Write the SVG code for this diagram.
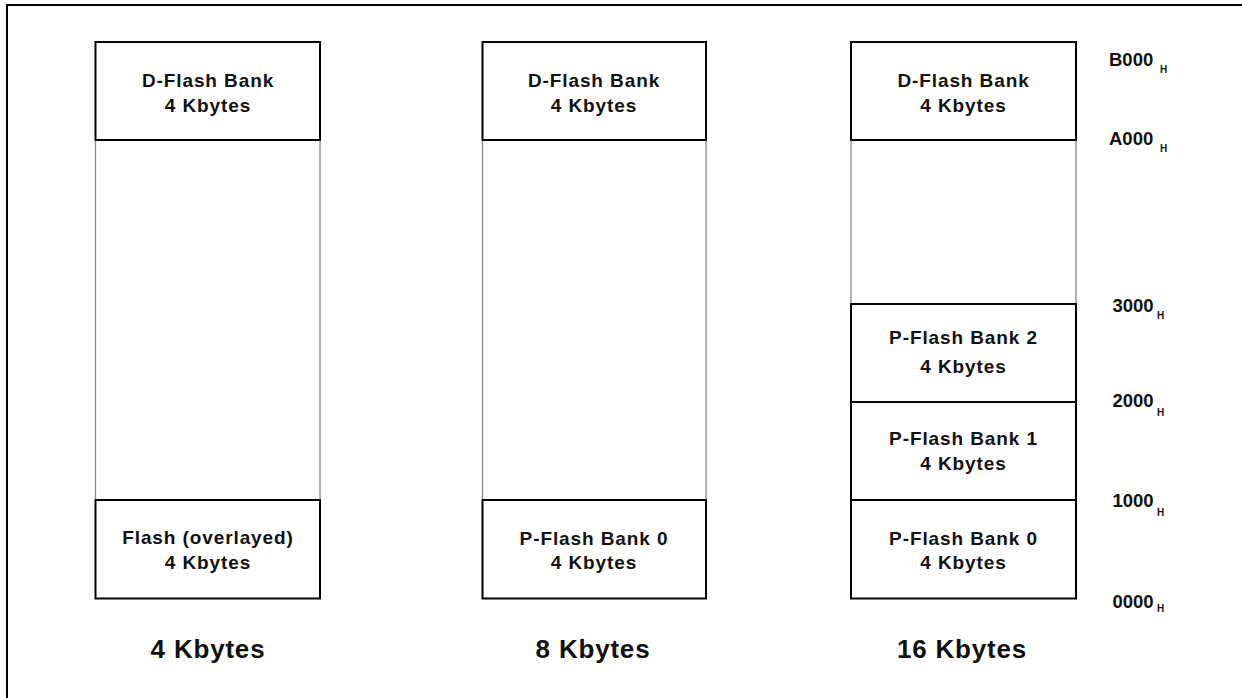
<svg xmlns="http://www.w3.org/2000/svg" width="1242" height="698" viewBox="0 0 1242 698">
<style>
.box{fill:#fff;stroke:#000;stroke-width:2}
.side{stroke:#8a8a8a;stroke-width:1.3;fill:none}
.lbl{font-family:"Liberation Sans",Arial,sans-serif;font-weight:bold;font-size:19px;letter-spacing:0.9px;text-anchor:middle;fill:#111}
.big{font-family:"Liberation Sans",Arial,sans-serif;font-weight:bold;font-size:26px;letter-spacing:0.8px;text-anchor:middle;fill:#111}
.addr{font-family:"Liberation Sans",Arial,sans-serif;font-weight:bold;font-size:18.5px;fill:#111}
.sub{font-family:"Liberation Sans",Arial,sans-serif;font-weight:bold;font-size:10px;fill:#111}
</style>
<rect x="0" y="0" width="1242" height="698" fill="#fff"/>
<rect x="7" y="5" width="1260" height="720" fill="none" stroke="#000" stroke-width="2"/>
<g id="connectors">
<line class="side" x1="95.5" y1="140" x2="95.5" y2="500"/>
<line class="side" x1="320" y1="140" x2="320" y2="500"/>
<line class="side" x1="482.5" y1="140" x2="482.5" y2="500"/>
<line class="side" x1="706" y1="140" x2="706" y2="500"/>
<line class="side" x1="851" y1="140" x2="851" y2="304"/>
<line class="side" x1="1076" y1="140" x2="1076" y2="304"/>
</g>
<g id="col1-dflash">
<rect class="box" x="95.5" y="42" width="224.5" height="98"/>
<text class="lbl" x="208" y="87">D-Flash Bank</text>
<text class="lbl" x="208" y="112">4 Kbytes</text>
</g>
<g id="col1-flash">
<rect class="box" x="95.5" y="500" width="224.5" height="98.5"/>
<text class="lbl" x="208" y="544">Flash (overlayed)</text>
<text class="lbl" x="208" y="569">4 Kbytes</text>
</g>
<g id="col1-title"><text class="big" x="208" y="658">4 Kbytes</text></g>
<g id="col2-dflash">
<rect class="box" x="482.5" y="42" width="223.5" height="98"/>
<text class="lbl" x="594" y="87">D-Flash Bank</text>
<text class="lbl" x="594" y="112">4 Kbytes</text>
</g>
<g id="col2-pflash0">
<rect class="box" x="482.5" y="500" width="223.5" height="98.5"/>
<text class="lbl" x="594" y="545">P-Flash Bank 0</text>
<text class="lbl" x="594" y="569">4 Kbytes</text>
</g>
<g id="col2-title"><text class="big" x="593" y="658">8 Kbytes</text></g>
<g id="col3-dflash">
<rect class="box" x="851" y="42" width="225" height="98"/>
<text class="lbl" x="963.5" y="87">D-Flash Bank</text>
<text class="lbl" x="963.5" y="112">4 Kbytes</text>
</g>
<g id="col3-pflash2">
<rect class="box" x="851" y="304" width="225" height="98"/>
<text class="lbl" x="963.5" y="344">P-Flash Bank 2</text>
<text class="lbl" x="963.5" y="373">4 Kbytes</text>
</g>
<g id="col3-pflash1">
<rect class="box" x="851" y="402" width="225" height="98"/>
<text class="lbl" x="963.5" y="445">P-Flash Bank 1</text>
<text class="lbl" x="963.5" y="470">4 Kbytes</text>
</g>
<g id="col3-pflash0">
<rect class="box" x="851" y="500" width="225" height="98.5"/>
<text class="lbl" x="963.5" y="545">P-Flash Bank 0</text>
<text class="lbl" x="963.5" y="569">4 Kbytes</text>
</g>
<g id="col3-title"><text class="big" x="962" y="658">16 Kbytes</text></g>
<g id="addresses">
<text class="addr" x="1109" y="66">B000</text><text class="sub" x="1160" y="73">H</text>
<text class="addr" x="1109" y="145">A000</text><text class="sub" x="1160" y="152">H</text>
<text class="addr" x="1112.5" y="312">3000</text><text class="sub" x="1157" y="319">H</text>
<text class="addr" x="1112.5" y="407">2000</text><text class="sub" x="1157" y="416">H</text>
<text class="addr" x="1112.5" y="507">1000</text><text class="sub" x="1157" y="516">H</text>
<text class="addr" x="1112.5" y="608">0000</text><text class="sub" x="1157" y="612">H</text>
</g>
</svg>
